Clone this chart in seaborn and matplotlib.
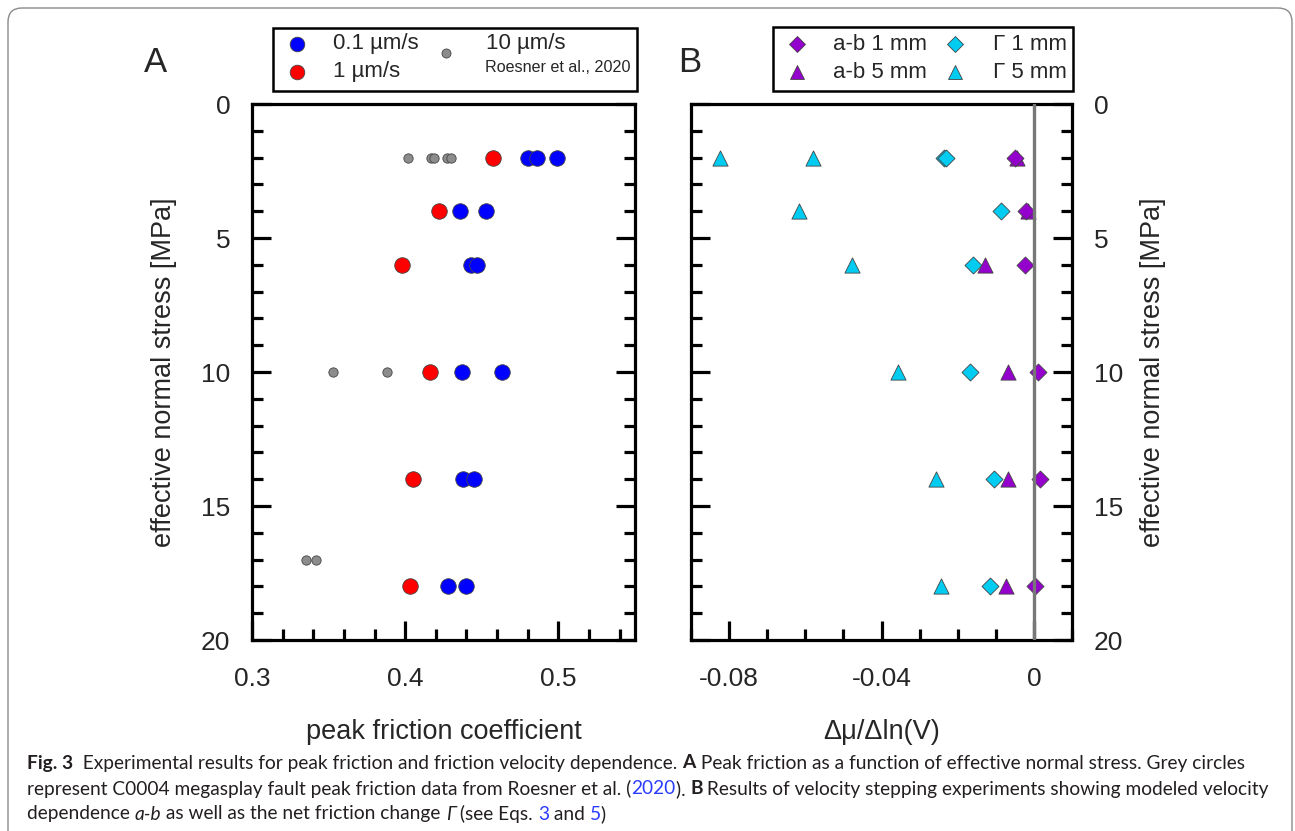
import matplotlib
matplotlib.use("Agg")
import matplotlib.pyplot as plt
import seaborn as sns
from matplotlib.ticker import MultipleLocator, FuncFormatter
from matplotlib.lines import Line2D
from matplotlib.patches import Rectangle, FancyBboxPatch
from matplotlib.transforms import IdentityTransform

# ---- data, panel A: peak friction vs effective normal stress ----
stress_01 = [2, 2, 2, 4, 4, 6, 6, 10, 10, 14, 14, 18, 18]
mu_01 = [0.480, 0.486, 0.499, 0.436, 0.453, 0.443, 0.447, 0.437, 0.463, 0.438, 0.445, 0.428, 0.440]
stress_1 = [2, 4, 6, 10, 14, 18]
mu_1 = [0.457, 0.422, 0.398, 0.416, 0.405, 0.403]
stress_10 = [2, 2, 2, 2, 2, 10, 10, 17, 17]
mu_10 = [0.402, 0.417, 0.419, 0.427, 0.430, 0.353, 0.388, 0.335, 0.342]

# ---- data, panel B: velocity dependence ----
stress_ab = [2, 4, 6, 10, 14, 18]
ab_1mm = [-0.0050, -0.0022, -0.0023, 0.0010, 0.0015, 0.0004]
ab_5mm = [-0.0045, -0.0015, -0.0128, -0.0067, -0.0067, -0.0072]
stress_g1 = [2, 2, 4, 6, 10, 14, 18]
gam_1mm = [-0.0237, -0.0232, -0.0087, -0.0160, -0.0168, -0.0104, -0.0115]
stress_g5 = [2, 2, 4, 6, 10, 14, 18]
gam_5mm = [-0.0824, -0.0581, -0.0616, -0.0477, -0.0356, -0.0257, -0.0245]

BLUE, RED, GREY = "#0000ff", "#ff0000", "#8c8c8c"
PURPLE, CYAN = "#9400cc", "#00ccf2"

sns.set_style("white")
plt.rcParams["font.family"] = ["Liberation Sans", "DejaVu Sans"]
plt.rcParams["axes.unicode_minus"] = False

W, H = 1295, 831
def fx(px):
    return px / W
def fy(py):
    return 1 - py / H

fig = plt.figure(figsize=(W / 100, H / 100), dpi=100)
fig.patch.set_facecolor("white")

axA = fig.add_axes([fx(252), fy(640), (635 - 252) / W, (640 - 104) / H])
axB = fig.add_axes([fx(691), fy(640), (1072 - 691) / W, (640 - 104) / H])

edge = dict(edgecolor="#444444", linewidth=0.6, legend=False)

# panel A
sns.scatterplot(x=mu_10, y=stress_10, ax=axA, color=GREY, s=45, zorder=3, **edge)
sns.scatterplot(x=mu_1, y=stress_1, ax=axA, color=RED, s=125, zorder=4, **edge)
sns.scatterplot(x=mu_01, y=stress_01, ax=axA, color=BLUE, s=125, zorder=4, **edge)

# panel B
sns.scatterplot(x=gam_5mm, y=stress_g5, ax=axB, color=CYAN, marker="^", s=120, zorder=3, **edge)
sns.scatterplot(x=gam_1mm, y=stress_g1, ax=axB, color=CYAN, marker="D", s=75, zorder=3, **edge)
sns.scatterplot(x=ab_5mm, y=stress_ab, ax=axB, color=PURPLE, marker="^", s=120, zorder=4, **edge)
sns.scatterplot(x=ab_1mm, y=stress_ab, ax=axB, color=PURPLE, marker="D", s=75, zorder=5, **edge)
axB.axvline(0, color="#777777", lw=2.4, zorder=6)

for ax in (axA, axB):
    ax.set_ylim(20, 0)
    ax.yaxis.set_major_locator(MultipleLocator(5))
    ax.yaxis.set_minor_locator(MultipleLocator(1))
    for sp in ax.spines.values():
        sp.set_linewidth(2.3)
        sp.set_color("black")
    ax.tick_params(which="both", direction="in", width=2.3, color="black",
                   left=True, right=True, bottom=True, top=False, labelsize=19)
    ax.tick_params(which="major", length=14)
    ax.tick_params(which="minor", length=8)
    ax.tick_params(axis="x", which="major", pad=19.5)
    ax.tick_params(axis="y", which="major", pad=15.5)
    ax.set_xlabel("")
    ax.set_ylabel("")
    ax.grid(False)

axA.set_xlim(0.3, 0.55)
axA.xaxis.set_major_locator(MultipleLocator(0.1))
axA.xaxis.set_minor_locator(MultipleLocator(0.02))
axA.xaxis.set_major_formatter(FuncFormatter(lambda v, p: f"{v:.1f}"))
axA.set_xlabel("peak friction coefficient", fontsize=19.5, labelpad=20)
axA.set_ylabel("effective normal stress [MPa]", fontsize=19.5, labelpad=17)
axA.tick_params(axis="y", labelleft=True, labelright=False)

axB.set_xlim(-0.09, 0.01)
axB.xaxis.set_major_locator(MultipleLocator(0.04))
axB.xaxis.set_minor_locator(MultipleLocator(0.01))
axB.xaxis.set_major_formatter(FuncFormatter(lambda v, p: "0" if abs(v) < 1e-9 else f"{v:.2f}"))
axB.set_xlabel("Δμ/Δln(V)", fontsize=19.5, labelpad=20)
axB.tick_params(axis="y", labelleft=False, labelright=True)
axB.yaxis.set_label_position("right")
axB.set_ylabel("effective normal stress [MPa]", fontsize=19.5, labelpad=12)

# panel letters
fig.text(fx(155), fy(62), "A", fontsize=25, ha="center", va="center")
fig.text(fx(690), fy(62), "B", fontsize=25, ha="center", va="center")

# legends drawn by hand, boxed like the original
def fig_marker(px, py, marker, color, size):
    fig.add_artist(Line2D([fx(px)], [fy(py)], transform=fig.transFigure, marker=marker,
                          markersize=size, markerfacecolor=color, markeredgecolor="#444444",
                          markeredgewidth=0.6, linestyle="none"))

fig.add_artist(Rectangle((fx(273), fy(91)), (637 - 273) / W, (91 - 28) / H,
                         transform=fig.transFigure, fill=False, lw=1.8, ec="black"))
fig_marker(297, 44, "o", BLUE, 10.5)
fig_marker(297, 72, "o", RED, 10.5)
fig_marker(446, 53, "o", GREY, 6.5)
fig.text(fx(333), fy(44), "0.1 µm/s", fontsize=16, va="center")
fig.text(fx(333), fy(72), "1 µm/s", fontsize=16, va="center")
fig.text(fx(486), fy(44), "10 µm/s", fontsize=16, va="center")
fig.text(fx(485), fy(67), "Roesner et al., 2020", fontsize=11.6, va="center")

fig.add_artist(Rectangle((fx(773), fy(91)), (1073 - 773) / W, (91 - 27) / H,
                         transform=fig.transFigure, fill=False, lw=1.8, ec="black"))
fig_marker(797, 44, "D", PURPLE, 8)
fig_marker(797, 72, "^", PURPLE, 10)
fig_marker(955, 44, "D", CYAN, 8)
fig_marker(955, 72, "^", CYAN, 10)
fig.text(fx(833), fy(44), "a-b 1 mm", fontsize=16, va="center")
fig.text(fx(833), fy(72), "a-b 5 mm", fontsize=16, va="center")
fig.text(fx(993), fy(44), "Γ 1 mm", fontsize=16, va="center")
fig.text(fx(993), fy(72), "Γ 5 mm", fontsize=16, va="center")

# outer rounded frame of the figure panel
fig.add_artist(FancyBboxPatch((8, -40), 1284, 823 + 40, boxstyle="round,pad=0,rounding_size=14",
                              transform=IdentityTransform(), fill=False, ec="#8a8a8a", lw=1.0))

# caption with mixed styles
CAP = ["Lato", "DejaVu Sans"]
CAP_SIZE = 13.75
TXT, LINK = "#231f20", "#2a3cff"
fig.canvas.draw()
renderer = fig.canvas.get_renderer()

def run_width(text, **kw):
    a = fig.text(0, 0, text + "|", **kw)
    b = fig.text(0, 0, "|", **kw)
    w = a.get_window_extent(renderer).width - b.get_window_extent(renderer).width
    a.remove()
    b.remove()
    return w

def caption_line(py, runs):
    x = 27
    for text, style in runs:
        kw = dict(fontsize=CAP_SIZE, family=CAP, color=TXT, va="center")
        if style == "b":
            kw["weight"] = "bold"
        elif style == "i":
            kw["style"] = "italic"
        elif style == "l":
            kw["color"] = LINK
        fig.text(fx(x), fy(py), text, **kw)
        x += run_width(text, **kw)

caption_line(763, [("Fig. 3", "b"),
                   ("  Experimental results for peak friction and friction velocity dependence. ", "n"),
                   ("A", "b"),
                   (" Peak friction as a function of effective normal stress. Grey circles", "n")])
caption_line(789, [("represent C0004 megasplay fault peak friction data from Roesner et al. (", "n"),
                   ("2020", "l"), ("). ", "n"), ("B", "b"),
                   (" Results of velocity stepping experiments showing modeled velocity", "n")])
caption_line(814, [("dependence ", "n"), ("a-b", "i"),
                   (" as well as the net friction change ", "n"), ("Γ", "i"),
                   (" (see Eqs. ", "n"), ("3", "l"), (" and ", "n"), ("5", "l"), (")", "n")])

fig.savefig("out.png", dpi=100, facecolor="white")
